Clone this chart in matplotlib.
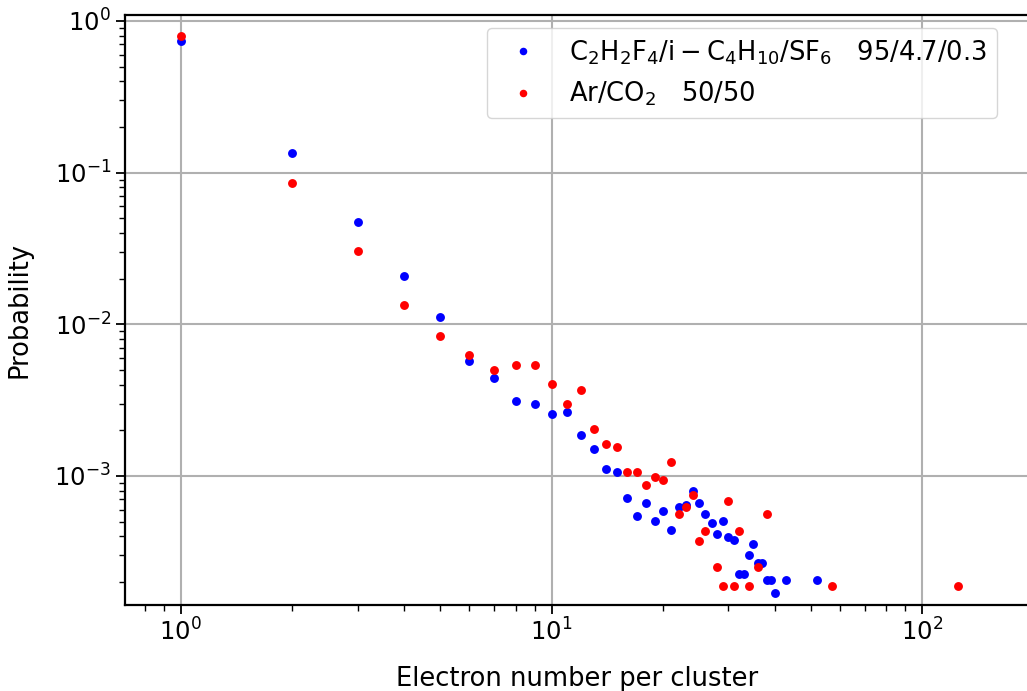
import matplotlib
matplotlib.use("Agg")
import matplotlib.pyplot as plt

# Data
blue_x = [1, 2, 3, 4, 5, 6, 7, 8, 9, 10, 11, 12, 13, 14, 15, 16, 17, 18, 19, 20,
          21, 22, 23, 24, 25, 26, 27, 28, 29, 30, 31, 32, 33, 34, 35, 36, 37, 38, 39, 40,
          43, 52]
blue_y = [0.738, 0.1355, 0.0475, 0.02075, 0.01113, 0.00571, 0.00445, 0.00313, 0.00299,
          0.002577, 0.002634, 0.001859, 0.001517, 0.001119, 0.001069, 0.000717, 0.000548,
          0.000662, 0.000508, 0.000586, 0.000437, 0.000625, 0.000648, 0.000801, 0.000662,
          0.000565, 0.000491, 0.000417, 0.000508, 0.000398, 0.000379, 0.000226, 0.000226,
          0.000303, 0.000358, 0.000266, 0.000266, 0.000207, 0.000207, 0.0001694,
          0.000207, 0.000207]

red_x = [1, 2, 3, 4, 5, 6, 7, 8, 9, 10, 11, 12, 13, 14, 15, 16, 17, 18, 19, 20,
         21, 22, 23, 24, 25, 26, 28, 29, 30, 31, 32, 34, 36, 38, 57, 125]
red_y = [0.800, 0.0855, 0.0305, 0.01336, 0.00839, 0.00629, 0.00498, 0.00542, 0.00542,
         0.00405, 0.00297, 0.00371, 0.00205, 0.00163, 0.00155, 0.00106, 0.00106,
         0.000869, 0.000991, 0.000938, 0.001245, 0.000560, 0.000622, 0.000747,
         0.000373, 0.000435, 0.000251, 0.000187, 0.000689, 0.000187, 0.000435,
         0.000187, 0.000251, 0.000560, 0.000187, 0.000187]

blue_label = r"$\mathrm{C_2H_2F_4/i-C_4H_{10}/SF_6}$   95/4.7/0.3"
red_label = r"$\mathrm{Ar/CO_2}$   50/50"

plt.rcParams['mathtext.fontset'] = 'dejavusans'
fig = plt.figure(figsize=(10.27, 6.91), dpi=100)
ax = fig.add_axes([125 / 1027, 86 / 691, 905 / 1027, 590 / 691])

ax.plot(blue_x, blue_y, 'o', color='blue', markersize=6.4, markeredgewidth=0,
        label=blue_label, zorder=3)
ax.plot(red_x, red_y, 'o', color='red', markersize=6.4, markeredgewidth=0,
        label=red_label, zorder=3)

ax.set_xscale('log')
ax.set_yscale('log')
ax.set_xlim(0.708, 195)
ax.set_ylim(1.41e-4, 1.095)
ax.grid(True, which='major', color='#b0b0b0', linewidth=1.5)
ax.set_axisbelow(True)

ax.tick_params(axis='both', which='major', labelsize=17.5, length=6.5, width=1.3)
ax.tick_params(axis='both', which='minor', length=4, width=1.0)
for s in ax.spines.values():
    s.set_linewidth(1.6)

ax.set_xlabel('Electron number per cluster', fontsize=18.5, labelpad=14)
ax.set_ylabel('Probability', fontsize=18.5, labelpad=16)

leg = ax.legend(loc='upper right', fontsize=18.5, markerscale=0.85,
                bbox_to_anchor=(0.9635, 0.978), borderaxespad=0, framealpha=0.8)

fig.savefig('out.png', dpi=100)
